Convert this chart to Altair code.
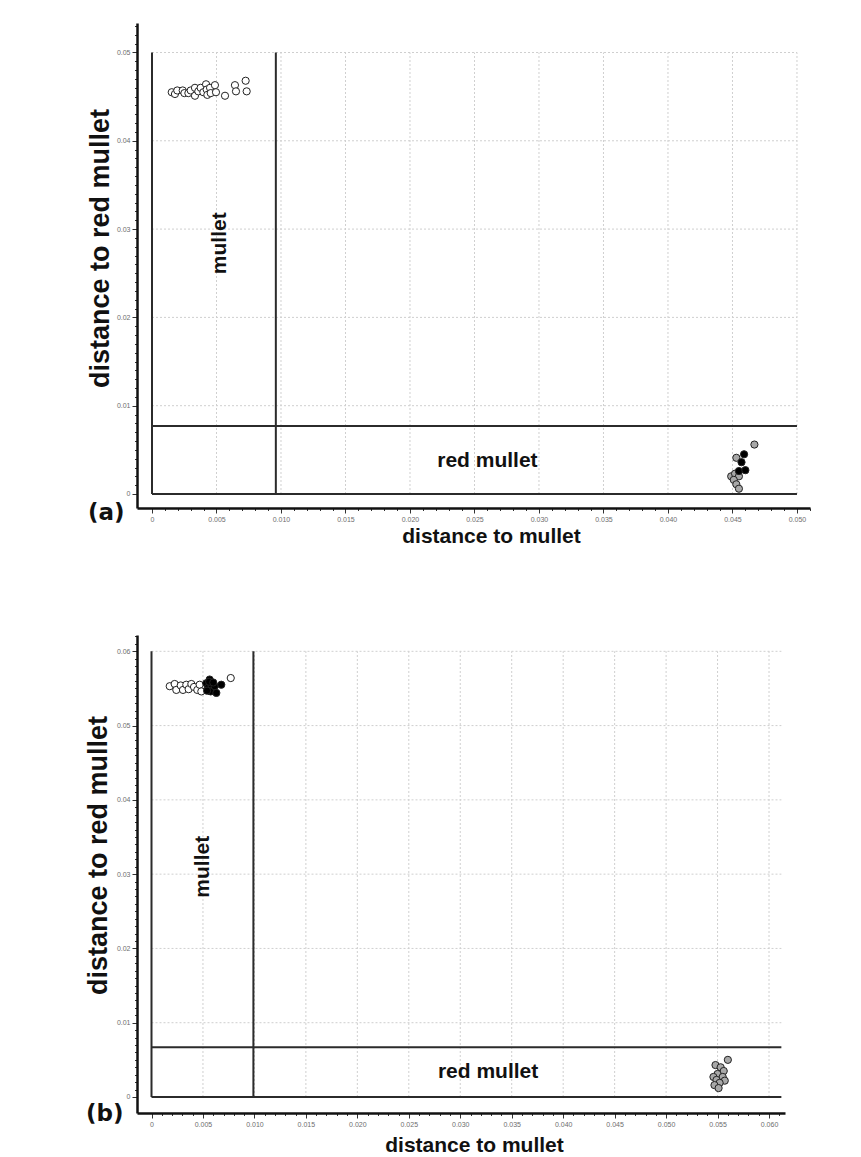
import altair as alt
import pandas as pd

# ---------------- data ----------------
# panel (a)
a_mullet_x = [0.00153, 0.00178, 0.00196, 0.00238, 0.00251, 0.00282, 0.00300, 0.00333, 0.00333,
              0.00359, 0.00377, 0.00398, 0.00419, 0.00424, 0.00429, 0.00450, 0.00455, 0.00488,
              0.00496, 0.00566, 0.00643, 0.00651, 0.00726, 0.00734]
a_mullet_y = [0.0455, 0.0453, 0.0457, 0.0457, 0.0454, 0.0454, 0.0457, 0.0460, 0.0451,
              0.0456, 0.0460, 0.0455, 0.0464, 0.0458, 0.0452, 0.0460, 0.0454, 0.0463,
              0.0455, 0.0451, 0.0463, 0.0456, 0.0468, 0.0456]
a_red_x = [0.0467, 0.0453, 0.0449, 0.0452, 0.0455, 0.0451, 0.0453, 0.0455]
a_red_y = [0.0056, 0.0041, 0.0020, 0.0023, 0.0020, 0.0016, 0.0011, 0.0006]
a_unk_x = [0.0459, 0.0457, 0.0455, 0.0460]
a_unk_y = [0.0045, 0.0036, 0.0026, 0.0027]
a_vlines = [0.0, 0.0096]
a_hlines = [0.0077, 0.0]

# panel (b)
b_mullet_x = [0.00177, 0.00225, 0.00241, 0.00284, 0.00306, 0.00338, 0.00361, 0.00387,
              0.00413, 0.00445, 0.00468, 0.00484, 0.00770]
b_mullet_y = [0.0553, 0.0556, 0.0548, 0.0554, 0.0548, 0.0555, 0.0549, 0.0556,
              0.0552, 0.0548, 0.0555, 0.0546, 0.0564]
b_unk_x = [0.00532, 0.00549, 0.00565, 0.00581, 0.00575, 0.00614, 0.00678, 0.00630,
           0.00560, 0.00600, 0.00540]
b_unk_y = [0.0557, 0.0551, 0.0562, 0.0555, 0.0546, 0.0553, 0.0555, 0.0544,
           0.0559, 0.0558, 0.0547]
b_red_x = [0.0560, 0.0548, 0.0553, 0.0556, 0.0550, 0.0546, 0.0555, 0.0549,
           0.0557, 0.0552, 0.0547, 0.0551]
b_red_y = [0.0050, 0.0043, 0.0040, 0.0035, 0.0031, 0.0027, 0.0027, 0.0023,
           0.0022, 0.0019, 0.0016, 0.0012]
b_vlines = [0.0, 0.0099]
b_hlines = [0.0067, 0.0]

groups = ["mullet", "red mullet", "unassigned"]
group_fill = ["#ffffff", "#a8a8a8", "#000000"]

FONT = "Liberation Sans, Arial, sans-serif"
TAGFONT = "DejaVu Sans, sans-serif"
TICKFONT = "Liberation Sans Narrow, Liberation Sans, sans-serif"


def thousandths(lo, hi):
    return [round(i / 1000, 3) for i in range(lo, hi + 1)]


def make_panel(pts, vlines, hlines, inner_x, inner_y, x_dom, y_dom, w, h,
               x_ticks, y_ticks, x_major_step, y_major_step, mullet_pos, red_pos,
               tag, tag_xy, xtitle_xy, ytitle_xy):
    xs = alt.Scale(domain=x_dom, nice=False, zero=False)
    ys = alt.Scale(domain=y_dom, nice=False, zero=False)
    common = dict(domainColor="#111111", domainWidth=2.5, tickColor="#333333", tickWidth=1,
                  labelColor="#6e6e6e", labelFont=TICKFONT, labelFontSize=7, labelPadding=2,
                  labelOverlap=False, labelFlush=False, grid=False, titleColor="#111111",
                  titleFont=FONT, titleFontWeight="bold")
    xtest = f"round(datum.value * 1000) % {x_major_step} == 0"
    ytest = f"round(datum.value * 1000) % {y_major_step} == 0"
    xax = alt.Axis(title="distance to mullet", values=x_ticks,
                   labelExpr=f"datum.value == 0 ? '0' : ({xtest} ? format(datum.value, '.3f') : '')",
                   tickSize={"condition": {"test": xtest, "value": 5}, "value": 2.5},
                   titleFontSize=21, titleX=xtitle_xy[0], titleY=xtitle_xy[1],
                   titleBaseline="alphabetic", titleAlign="center", **common)
    yax = alt.Axis(title="distance to red mullet", values=y_ticks,
                   labelExpr=f"datum.value == 0 ? '0' : ({ytest} ? format(datum.value, '.2f') : '')",
                   tickSize={"condition": {"test": ytest, "value": 5}, "value": 2.5},
                   titleFontSize=27, titleX=ytitle_xy[0], titleY=ytitle_xy[1],
                   titleBaseline="alphabetic", titleAlign="center", **common)

    X = lambda f: alt.X(f, scale=xs, axis=xax)
    Y = lambda f: alt.Y(f, scale=ys, axis=yax)

    gx = [v for v in x_ticks if v > 0 and round(v * 1000) % x_major_step == 0 and v <= inner_x + 1e-9]
    gy = [v for v in y_ticks if v > 0 and round(v * 1000) % y_major_step == 0 and v <= inner_y + 1e-9]
    gv = pd.DataFrame({"x": gx, "y": [0.0] * len(gx), "y2": [inner_y] * len(gx)})
    gh = pd.DataFrame({"y": gy, "x": [0.0] * len(gy), "x2": [inner_x] * len(gy)})
    grid_v = alt.Chart(gv).mark_rule(color="#cfcfcf", strokeWidth=1, strokeDash=[2, 2]).encode(
        x=X("x:Q"), y=Y("y:Q"), y2="y2:Q")
    grid_h = alt.Chart(gh).mark_rule(color="#cfcfcf", strokeWidth=1, strokeDash=[2, 2]).encode(
        y=Y("y:Q"), x=X("x:Q"), x2="x2:Q")

    lv = pd.DataFrame({"x": vlines, "y": [0.0] * len(vlines), "y2": [inner_y] * len(vlines)})
    lh = pd.DataFrame({"y": hlines, "x": [0.0] * len(hlines), "x2": [inner_x] * len(hlines)})
    line_v = alt.Chart(lv).mark_rule(color="#2b2b2b", strokeWidth=2).encode(
        x=X("x:Q"), y=Y("y:Q"), y2="y2:Q")
    line_h = alt.Chart(lh).mark_rule(color="#2b2b2b", strokeWidth=2).encode(
        y=Y("y:Q"), x=X("x:Q"), x2="x2:Q")

    points = alt.Chart(pts).mark_point(shape="circle", filled=True, size=52, opacity=1,
                                       stroke="#222222", strokeWidth=1).encode(
        x=X("x:Q"), y=Y("y:Q"),
        fill=alt.Fill("group:N", scale=alt.Scale(domain=groups, range=group_fill), legend=None),
        order=alt.Order("ord:Q"))

    t_m = alt.Chart(pd.DataFrame({"x": [mullet_pos[0]], "y": [mullet_pos[1]], "t": ["mullet"]})).mark_text(
        font=FONT, fontWeight="bold", fontSize=21, angle=270, color="#111111").encode(
        x=X("x:Q"), y=Y("y:Q"), text="t:N")
    t_r = alt.Chart(pd.DataFrame({"x": [red_pos[0]], "y": [red_pos[1]], "t": ["red mullet"]})).mark_text(
        font=FONT, fontWeight="bold", fontSize=21, color="#111111").encode(
        x=X("x:Q"), y=Y("y:Q"), text="t:N")
    t_tag = alt.Chart(pd.DataFrame({"t": [tag]})).mark_text(
        font=TAGFONT, fontWeight="bold", fontSize=23, align="left", baseline="alphabetic",
        color="#111111").encode(x=alt.value(tag_xy[0]), y=alt.value(tag_xy[1]), text="t:N")

    return alt.layer(grid_v, grid_h, line_v, line_h, points, t_m, t_r, t_tag).properties(
        width=w, height=h)


def points_df(mx, my, rx, ry, ux, uy):
    rows = []
    for x, y in zip(mx, my):
        rows.append({"x": x, "y": y, "group": "mullet"})
    for x, y in zip(rx, ry):
        rows.append({"x": x, "y": y, "group": "red mullet"})
    for x, y in zip(ux, uy):
        rows.append({"x": x, "y": y, "group": "unassigned"})
    df = pd.DataFrame(rows)
    df["ord"] = range(len(df))
    return df


pa = make_panel(points_df(a_mullet_x, a_mullet_y, a_red_x, a_red_y, a_unk_x, a_unk_y),
                a_vlines, a_hlines, 0.05, 0.05,
                [-0.001163, 0.05101], [-0.001586, 0.05334], 673, 485,
                thousandths(0, 51), thousandths(0, 53), 5, 10,
                (0.00527, 0.0284), (0.026, 0.0037),
                "(a)", (-49, 497), (354, 34), (-29, 225))

pb = make_panel(points_df(b_mullet_x, b_mullet_y, b_red_x, b_red_y, b_unk_x, b_unk_y),
                b_vlines, b_hlines, 0.0612, 0.06,
                [-0.001409, 0.061553], [-0.002154, 0.062194], 648, 478,
                thousandths(0, 61), thousandths(0, 62), 5, 10,
                (0.0050, 0.031), (0.0327, 0.0034),
                "(b)", (-51, 486), (337, 38), (-31, 220))

chart = alt.vconcat(pa, pb, spacing=86).properties(
    padding={"left": 76, "top": 14, "right": 5, "bottom": 5}
).configure_view(stroke=None)

chart.save("out.html", embed_options={"renderer": "svg", "actions": False})
